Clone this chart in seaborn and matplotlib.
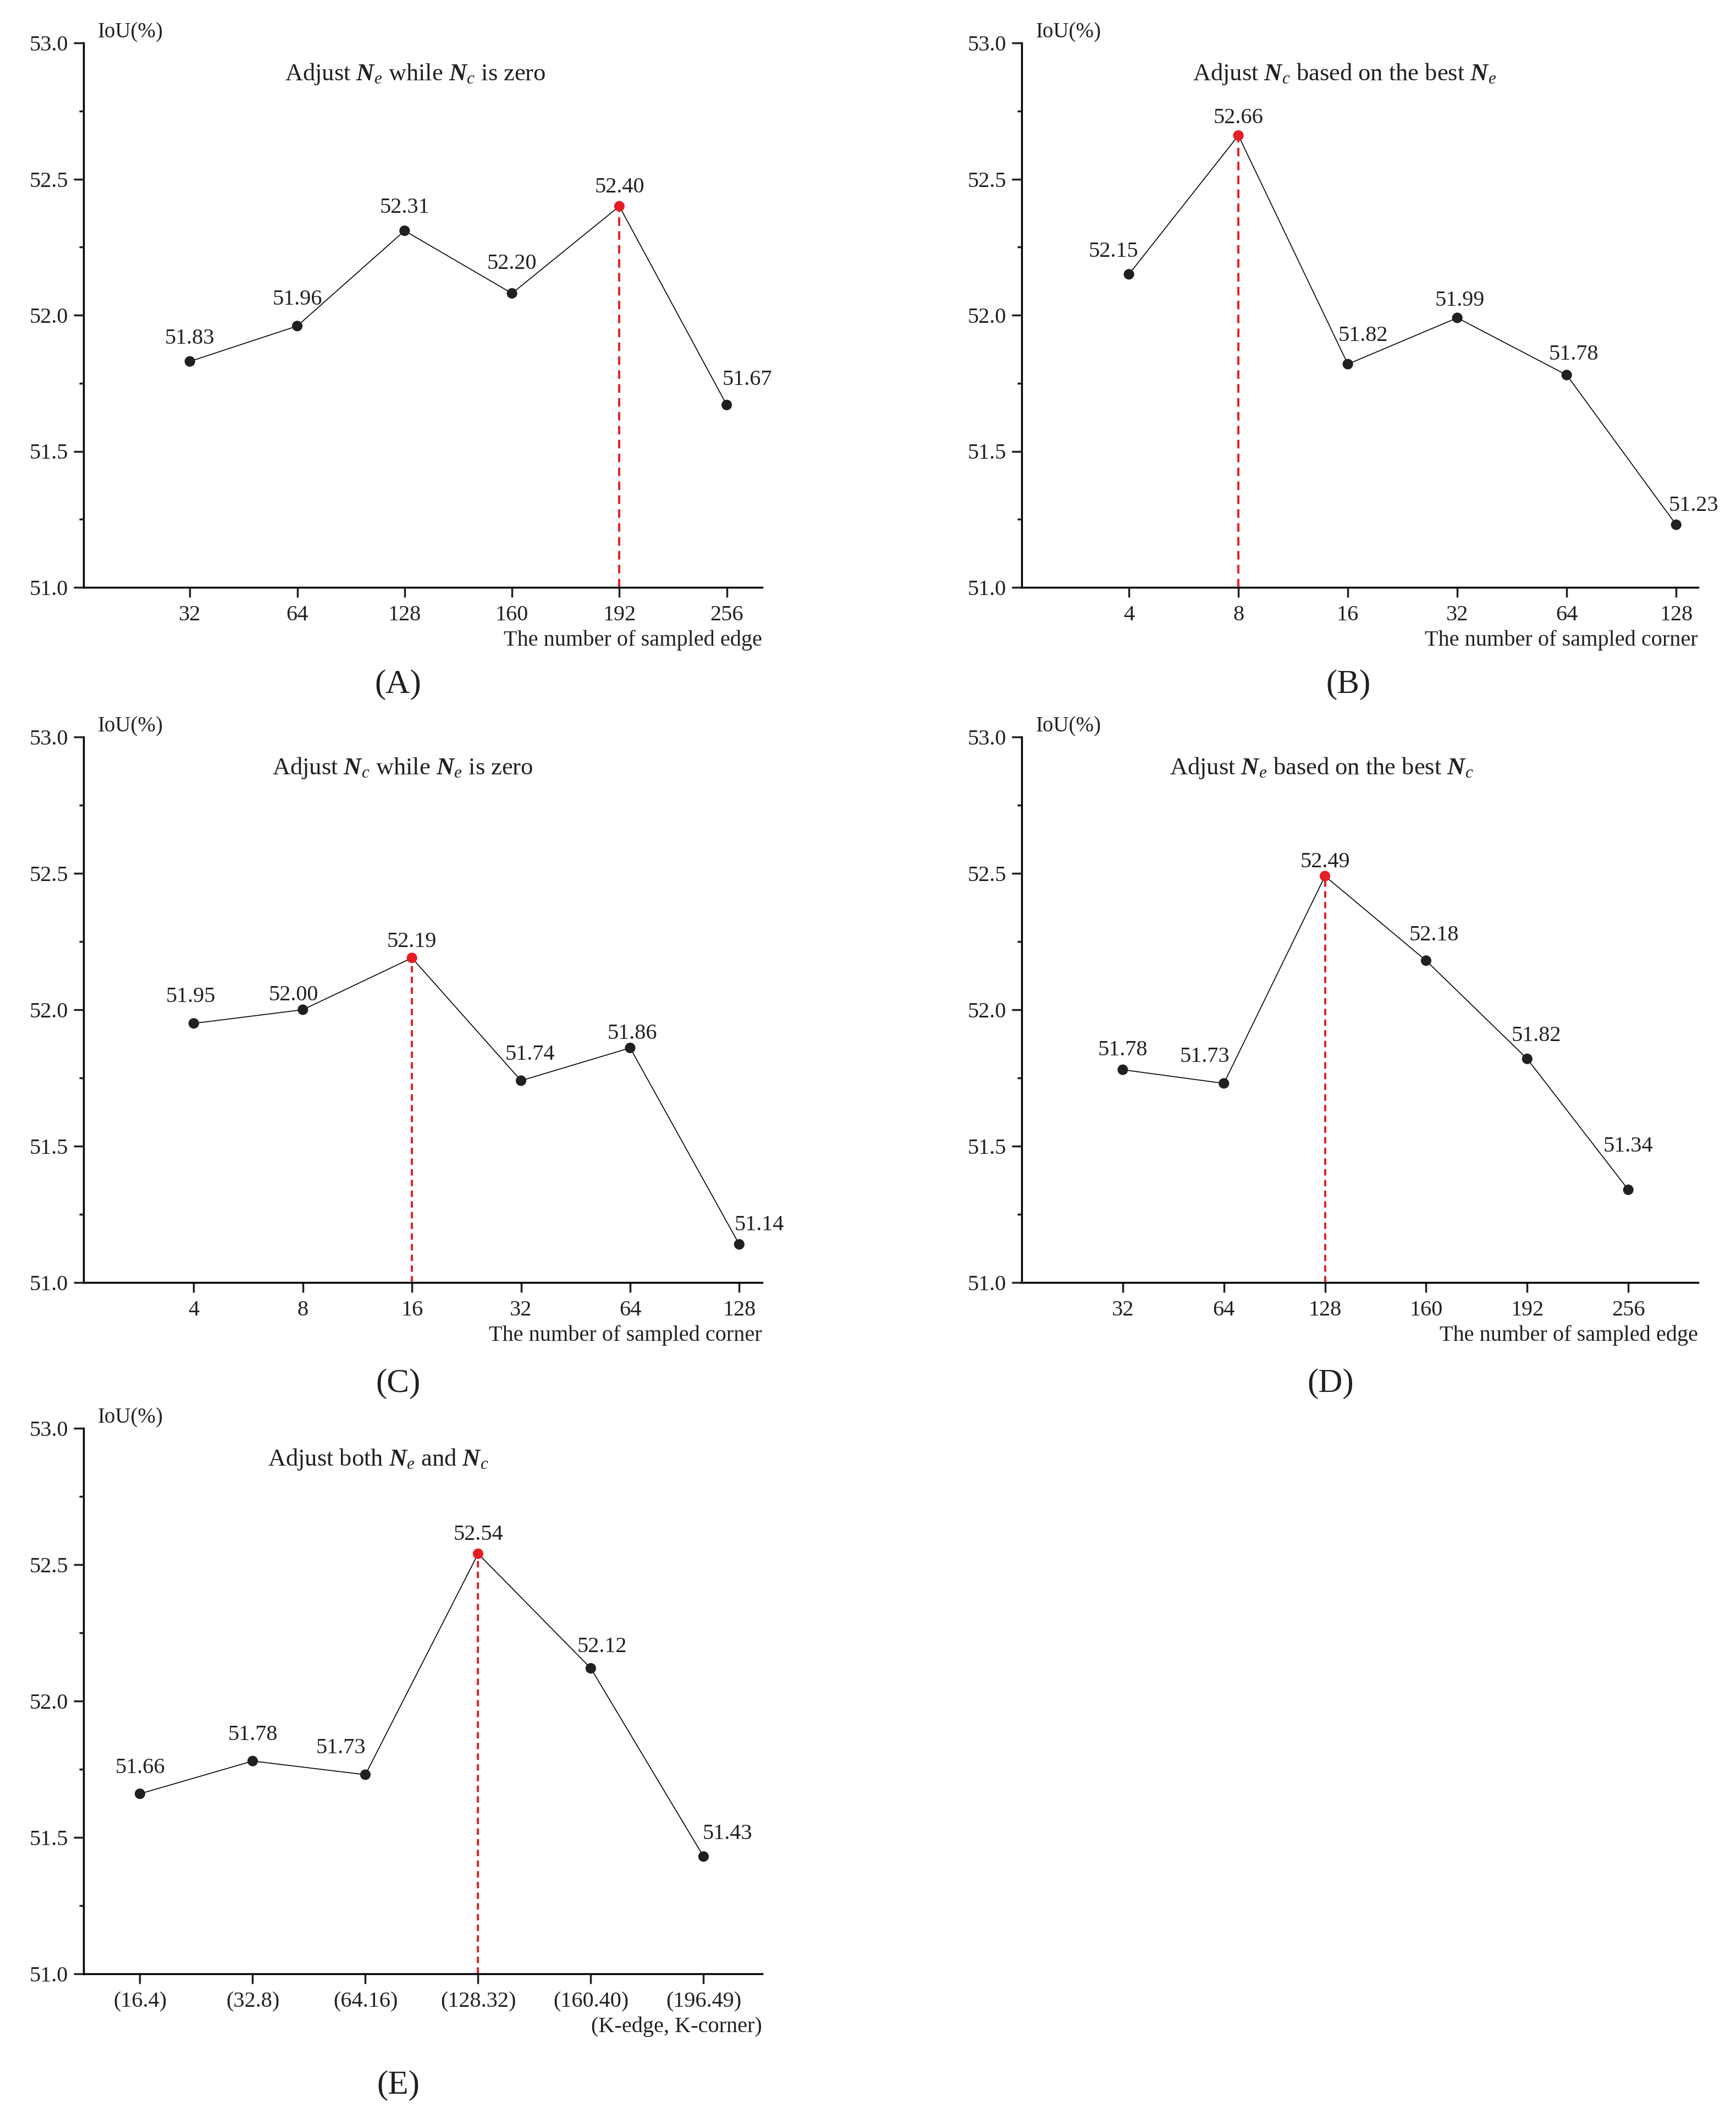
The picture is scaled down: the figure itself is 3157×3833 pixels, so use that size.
import matplotlib
matplotlib.use("Agg")
import matplotlib.pyplot as plt
from matplotlib.ticker import MultipleLocator, FormatStrFormatter
import numpy as np
import pandas as pd
import seaborn as sns

# ---- data ----
edge_ticks = ["32", "64", "128", "160", "192", "256"]
corner_ticks = ["4", "8", "16", "32", "64", "128"]
pair_ticks = ["(16.4)", "(32.8)", "(64.16)", "(128.32)", "(160.40)", "(196.49)"]

iou_a = [51.83, 51.96, 52.31, 52.08, 52.40, 51.67]
text_a = ["51.83", "51.96", "52.31", "52.20", "52.40", "51.67"]
iou_b = [52.15, 52.66, 51.82, 51.99, 51.78, 51.23]
iou_c = [51.95, 52.00, 52.19, 51.74, 51.86, 51.14]
iou_d = [51.78, 51.73, 52.49, 52.18, 51.82, 51.34]
iou_e = [51.66, 51.78, 51.73, 52.54, 52.12, 51.43]

best_a, best_b, best_c, best_d, best_e = 4, 1, 2, 2, 3

# label offsets (points) so the numbers sit clear of the line
off_a = [(0, 30), (0, 35), (0, 30), (0, 39), (0, 25), (27, 33)]
off_b = [(-20, 30), (0, 23), (20, 37), (3, 23), (9, 27), (23, 25)]
off_c = [(-4, 35), (-12, 19), (0, 21), (12, 34), (3, 19), (26, 25)]
off_d = [(0, 26), (-25, 35), (0, 18), (10, 33), (12, 30), (0, 57)]
off_e = [(0, 34), (0, 34), (-32, 35), (0, 25), (15, 28), (31, 30)]

sns.set_style("ticks")
plt.rcParams["font.family"] = ["Liberation Serif", "DejaVu Serif"]
plt.rcParams["mathtext.fontset"] = "custom"
plt.rcParams["mathtext.rm"] = "Liberation Serif"
plt.rcParams["mathtext.it"] = "Liberation Serif:italic"
plt.rcParams["mathtext.bf"] = "Liberation Serif:italic:bold"

INK = "#231f20"
RED = "#e31e24"
W, H = 3157, 3833
fig = plt.figure(figsize=(W / 100, H / 100), dpi=100)


def panel(rect, ticks, vals, best, offs, title, title_x, xlabel, labels=None,
          xlim=(-1, 5.3), dash=(0, (3, 2))):
    l, t, r, b = rect
    ax = fig.add_axes([l / W, 1 - b / H, (r - l) / W, (b - t) / H])
    df = pd.DataFrame({"pos": np.arange(len(vals)), "iou": vals})
    df["best"] = df["pos"] == best
    ax.vlines(best, 51.0, vals[best], colors=RED, lw=2.8, linestyles=dash, zorder=1)
    sns.lineplot(data=df, x="pos", y="iou", color="black", lw=1.2, ax=ax, zorder=2)
    sns.scatterplot(data=df, x="pos", y="iou", hue="best",
                    palette={False: INK, True: RED}, s=190, linewidth=0,
                    legend=False, ax=ax, zorder=3)
    if labels is None:
        labels = [f"{v:.2f}" for v in vals]
    for i, (v, lab) in enumerate(zip(vals, labels)):
        ax.annotate(lab, (i, v), xytext=offs[i], textcoords="offset points",
                    ha="center", va="center", fontsize=29, color=INK)
    ax.set_xlim(*xlim)
    ax.set_ylim(51.0, 53.0)
    ax.set_xticks(np.arange(len(ticks)))
    ax.set_xticklabels(ticks)
    ax.yaxis.set_major_locator(MultipleLocator(0.5))
    ax.yaxis.set_minor_locator(MultipleLocator(0.25))
    ax.yaxis.set_major_formatter(FormatStrFormatter("%.1f"))
    ax.tick_params(axis="both", which="major", direction="out", length=13,
                   width=2.5, labelsize=29, colors=INK)
    ax.tick_params(axis="x", pad=10)
    ax.tick_params(axis="y", pad=7)
    ax.tick_params(axis="y", which="minor", direction="out", length=6, width=2.5,
                   colors=INK)
    for s in ["top", "right"]:
        ax.spines[s].set_visible(False)
    for s in ["left", "bottom"]:
        ax.spines[s].set_linewidth(2.5)
        ax.spines[s].set_color("black")
    ax.set_xlabel("")
    ax.set_ylabel("")
    ax.text(0.021, 1.019, "IoU(%)", transform=ax.transAxes, ha="left",
            va="center", fontsize=28, color=INK)
    ax.text(title_x, 0.943, title, transform=ax.transAxes, ha="center",
            va="center", fontsize=32, color=INK)
    ax.text(1.0, -0.097, xlabel, transform=ax.transAxes, ha="right",
            va="center", fontsize=29, color=INK)
    ax.grid(False)
    return ax


panel((152, 78, 1386, 1068), edge_ticks, iou_a, best_a, off_a,
      r"Adjust $\mathbf{N}_{e}$ while $\mathbf{N}_{c}$ is zero", 0.489,
      "The number of sampled edge", labels=text_a, xlim=(-0.99, 5.33),
      dash=(0, (4, 2.5)))
panel((1858, 78, 3088, 1068), corner_ticks, iou_b, best_b, off_b,
      r"Adjust $\mathbf{N}_{c}$ based on the best $\mathbf{N}_{e}$", 0.477,
      "The number of sampled corner", xlim=(-0.98, 5.2), dash=(0, (4, 2.5)))
panel((152, 1340, 1386, 2332), corner_ticks, iou_c, best_c, off_c,
      r"Adjust $\mathbf{N}_{c}$ while $\mathbf{N}_{e}$ is zero", 0.47,
      "The number of sampled corner", xlim=(-1.01, 5.21))
panel((1858, 1340, 3088, 2332), edge_ticks, iou_d, best_d, off_d,
      r"Adjust $\mathbf{N}_{e}$ based on the best $\mathbf{N}_{c}$", 0.443,
      "The number of sampled edge", xlim=(-1.0, 5.69))
panel((152, 2597, 1386, 3589), pair_ticks, iou_e, best_e, off_e,
      r"Adjust both $\mathbf{N}_{e}$ and $\mathbf{N}_{c}$", 0.434,
      "(K-edge, K-corner)", xlim=(-0.5, 5.52))

for lab, x, y in [("(A)", 724, 1245), ("(B)", 2452, 1245), ("(C)", 724, 2516),
                  ("(D)", 2420, 2516), ("(E)", 724, 3792)]:
    fig.text(x / W, 1 - y / H, lab, ha="center", va="center", fontsize=44,
             color=INK)

fig.savefig("out.png", dpi=100, facecolor="white")
